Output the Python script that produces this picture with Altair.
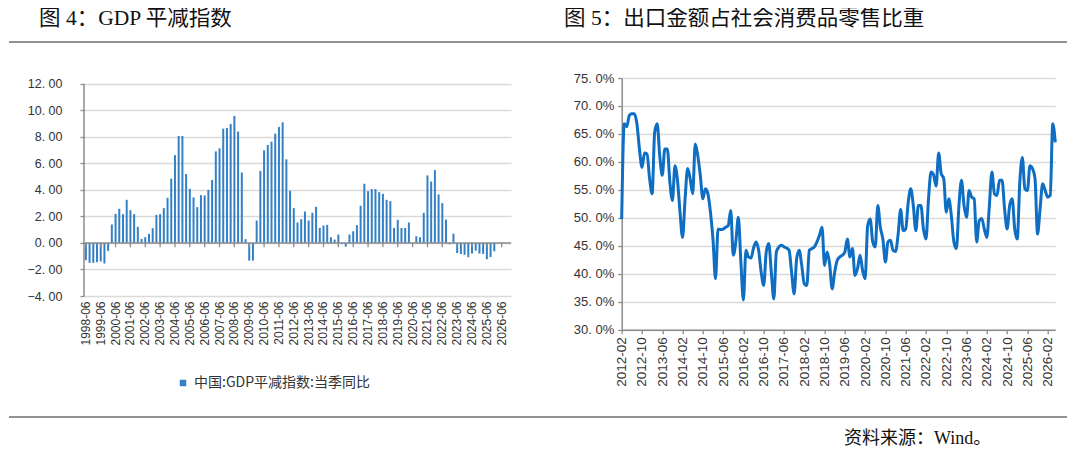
import altair as alt
import pandas as pd

# ---------------- data ----------------
gdp_values = [
    -1.3, -1.5, -1.5, -1.45, -1.4, -1.55, -0.6,
    1.39, 2.19, 2.57, 2.17, 3.25, 2.47, 2.17, 1.21, 0.30, 0.43, 0.68, 1.11,
    2.12, 2.17, 2.62, 3.40, 4.84, 6.62, 8.06, 8.06, 5.19, 4.08, 3.43, 2.70,
    3.60, 3.58, 4.00, 4.74, 6.90, 7.13, 8.61, 8.66, 8.97, 9.57, 8.39, 5.31,
    0.28, -1.33, -1.33, 1.69, 5.42, 6.98, 7.38, 7.63, 8.24, 8.74, 9.09, 6.30,
    3.93, 2.62, 1.54, 1.79, 2.37, 1.69, 2.27, 2.72, 1.13, 1.31, 1.36, 0.43,
    0.25, 0.63, -0.08, -0.28, 0.63, 0.88, 1.34, 2.80, 4.46, 3.90, 4.06, 4.06,
    3.83, 3.70, 3.25, 3.15, 1.13, 1.74, 1.13, 1.13, 1.54, 0.0, 0.5, 0.43,
    2.27, 5.09, 4.63, 5.49, 3.65, 3.0, 1.76, -0.1, 0.7, -0.76, -0.83, -0.9,
    -1.08, -0.8, -0.58, -0.8, -0.83, -1.23, -1.06, -0.63,
]

ratio_values = [
    49.8, 66.8, 66.3, 68.3, 68.6, 68.6, 66.8, 62.3, 59.0, 61.6, 61.4, 57.0,
    54.3, 65.3, 66.8, 61.1, 57.6, 62.3, 62.3, 56.4, 53.1, 59.3, 56.7, 51.0,
    46.5, 53.4, 58.8, 57.0, 54.3, 63.2, 61.1, 57.6, 53.4, 55.2, 54.3, 51.0,
    46.2, 39.1, 48.0, 47.9, 48.0, 48.3, 48.6, 51.3, 43.3, 45.7, 50.1, 42.1,
    35.3, 44.2, 43.0, 42.8, 44.6, 45.7, 44.2, 40.3, 37.9, 43.9, 45.4, 40.3,
    35.5, 43.9, 44.8, 45.1, 44.8, 44.6, 44.2, 40.3, 36.4, 42.7, 44.2, 41.5,
    38.2, 37.9, 44.2, 44.5, 44.8, 45.7, 46.9, 48.3, 41.5, 43.9, 41.8, 37.3,
    40.3, 42.4, 43.0, 43.3, 43.9, 46.2, 43.0, 44.5, 39.7, 40.9, 43.3, 40.6,
    39.1, 48.6, 49.8, 45.7, 44.8, 52.2, 48.3, 46.2, 42.1, 45.7, 46.0, 44.2,
    44.0, 47.0, 51.5, 47.7, 48.0, 52.8, 55.2, 52.2, 47.7, 52.2, 52.2, 48.0,
    46.2, 53.4, 58.2, 57.7, 55.7, 61.6, 57.9, 57.0, 51.0, 53.4, 50.4, 45.7,
    44.5, 52.2, 56.7, 52.2, 50.1, 54.9, 53.7, 53.4, 45.7, 49.5, 49.9, 48.0,
    46.5, 52.2, 58.2, 54.3, 54.0, 56.7, 56.7, 51.6, 48.0, 52.2, 53.4, 48.0,
    46.2, 56.4, 60.8, 55.2, 54.9, 59.3, 58.8, 57.0, 47.1, 51.6, 56.1, 54.9,
    53.7, 54.0, 66.8, 63.5,
]

quarter_categories = [f"{y}-{m}" for y in range(1998, 2027)
                      for m in ("03", "06", "09", "12")][1:]
gdp_tick_labels = quarter_categories[::4]
month_categories = [f"{2012 + (1 + i) // 12}-{(1 + i) % 12 + 1:02d}"
                    for i in range(len(ratio_values))]
month_tick_labels = month_categories[::8]

gdp_y_ticks = [-4, -2, 0, 2, 4, 6, 8, 10, 12]
ratio_y_ticks = [30, 35, 40, 45, 50, 55, 60, 65, 70, 75]

legend_name = "中国:GDP平减指数:当季同比"
title_left = "图 4：GDP 平减指数"
title_right = "图 5：出口金额占社会消费品零售比重"
source_text = "资料来源：Wind。"

gdp_df = pd.DataFrame({
    "quarter": quarter_categories[:len(gdp_values)],
    "value": gdp_values,
    "series": legend_name,
})
tick_df = pd.DataFrame({"quarter": gdp_tick_labels})
ratio_df = pd.DataFrame({"month": month_categories, "value": ratio_values})
one = pd.DataFrame({"k": [0]})

# ---------------- style ----------------
W1, H1 = 427, 218
W2, H2 = 433.6, 251.7
bar_blue = "#3480C6"
line_blue = "#0F6EC2"
axis_gray = "#8C8C8C"
grid_gray = "#D9D9D9"
sep_gray = "#6E6E6E"
label_font = "Liberation Sans"
title_font = "Liberation Serif, Noto Sans CJK SC"

# ---------------- left chart ----------------
x_left_scale = alt.Scale(domain=quarter_categories, paddingInner=0, paddingOuter=0)
x_left_axis = alt.Axis(values=gdp_tick_labels, labelAngle=270, ticks=False,
                       domain=False, grid=False, labelPadding=5,
                       labelFontSize=12, title=None)
y_left_scale = alt.Scale(domain=[-4, 12.43], nice=False, zero=False)
y_left_axis = alt.Axis(values=gdp_y_ticks, grid=True, gridColor=grid_gray,
                       gridWidth=1.3, domain=False, tickSize=4,
                       tickColor=axis_gray, tickWidth=1.3, labelPadding=18,
                       labelFontSize=12.5,
                       labelExpr="replace(format(datum.value, '.2f'), '.', '. ')",
                       title=None)

bars = alt.Chart(gdp_df).mark_bar(size=2).encode(
    x=alt.X("quarter:O", scale=x_left_scale, axis=x_left_axis),
    y=alt.Y("value:Q", scale=y_left_scale, axis=y_left_axis),
    color=alt.Color(
        "series:N",
        scale=alt.Scale(range=[bar_blue]),
        legend=alt.Legend(orient="none", legendX=92, legendY=298, title=None,
                          symbolType="square", symbolSize=42,
                          symbolStrokeWidth=0, labelFont="Noto Sans CJK SC",
                          labelFontSize=14, labelColor="#333", padding=0,
                          labelOffset=4, labelLimit=0),
    ),
)

y_axis_line = alt.Chart(one).mark_rule(color=axis_gray, strokeWidth=1.5).encode(
    x=alt.value(0),
    y=alt.YDatum(12, scale=y_left_scale, axis=y_left_axis),
    y2=alt.Y2Datum(-4),
)
zero_line = alt.Chart(one).mark_rule(color=axis_gray, strokeWidth=1.5).encode(
    x=alt.value(0),
    x2=alt.value(W1),
    y=alt.YDatum(0, scale=y_left_scale, axis=y_left_axis),
)
zero_ticks = alt.Chart(tick_df).mark_rule(color=axis_gray, strokeWidth=1.3).encode(
    x=alt.X("quarter:O", scale=x_left_scale, axis=x_left_axis),
    y=alt.YDatum(0, scale=y_left_scale, axis=y_left_axis),
    y2=alt.Y2Datum(-0.33),
)

title1 = alt.Chart(one).mark_text(
    text=title_left, font=title_font, fontSize=21.5, align="left",
    baseline="middle", color="#111",
).encode(x=alt.value(-45), y=alt.value(-59))
title2 = alt.Chart(one).mark_text(
    text=title_right, font=title_font, fontSize=21.5, align="left",
    baseline="middle", color="#111",
).encode(x=alt.value(480), y=alt.value(-59))
header_rule = alt.Chart(one).mark_rule(color=sep_gray, strokeWidth=1.3).encode(
    x=alt.value(-75), x2=alt.value(983), y=alt.value(-36),
)
footer_rule = alt.Chart(one).mark_rule(color=sep_gray, strokeWidth=1.3).encode(
    x=alt.value(-75), x2=alt.value(983), y=alt.value(339),
)
footer = alt.Chart(one).mark_text(
    text=source_text, font=title_font, fontSize=18, align="left",
    baseline="middle", color="#111",
).encode(x=alt.value(760), y=alt.value(360.5))

left = alt.layer(
    bars, y_axis_line, zero_line, zero_ticks,
    title1, title2, header_rule, footer_rule, footer,
).properties(width=W1, height=H1)

# ---------------- right chart ----------------
line = alt.Chart(ratio_df).mark_line(
    color=line_blue, strokeWidth=3, interpolate="monotone"
).encode(
    x=alt.X(
        "month:O",
        scale=alt.Scale(type="point", domain=month_categories, padding=0),
        axis=alt.Axis(values=month_tick_labels, labelAngle=270, tickSize=4,
                      tickColor=axis_gray, tickWidth=1.3, domainColor=axis_gray,
                      domainWidth=1.5, grid=False, labelPadding=3,
                      labelFontSize=13.5, title=None),
    ),
    y=alt.Y(
        "value:Q",
        scale=alt.Scale(domain=[30, 75], nice=False, zero=False),
        axis=alt.Axis(values=ratio_y_ticks, grid=True, gridColor=grid_gray,
                      gridWidth=1.3, domainColor=axis_gray, domainWidth=1.5,
                      tickSize=4, tickColor=axis_gray, tickWidth=1.3,
                      labelPadding=4, labelFontSize=13,
                      labelExpr="replace(format(datum.value, '.1f'), '.', '. ') + '%'",
                      title=None),
    ),
).properties(width=W2, height=H2)

chart = alt.hconcat(left, line, spacing=110.7, bounds="flush").properties(
    padding=0
).configure_view(stroke=None).configure_axis(
    labelFont=label_font, labelColor="#333"
)

chart.save("out.html", embed_options={"renderer": "svg", "actions": False})
